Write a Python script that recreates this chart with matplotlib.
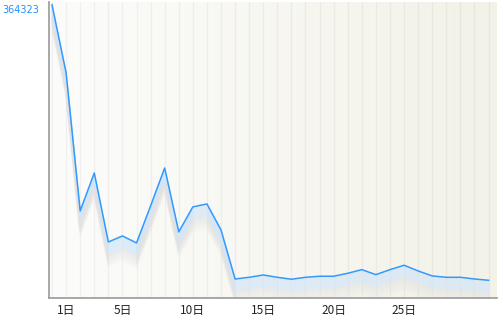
import numpy as np
import matplotlib
matplotlib.use("Agg")
import matplotlib.pyplot as plt
import matplotlib.transforms as mtransforms

plt.rcParams['font.family'] = ['Noto Sans CJK JP', 'DejaVu Sans']

# data (day index 0..31)
days = list(range(32))
values = [364323, 279800, 108200, 155400, 69600, 77100, 68400, 114400,
          161600, 82100, 113200, 116900, 84600, 23600, 25700, 28600,
          25700, 23300, 25700, 27000, 27000, 30700, 35200, 29000,
          35200, 40700, 33600, 27400, 25700, 25700, 23600, 22000]
tick_days = [1, 5, 10, 15, 20, 25]
tick_labels = ["1日", "5日", "10日", "15日", "20日", "25日"]
y_max = 364323

fig = plt.figure(figsize=(5, 3.17), dpi=100)
ax = fig.add_axes([0.098, 0.06, 0.896, 0.934])

x0, x1 = -0.215, 31.6
y0, y1 = 0, 368000
ax.set_xlim(x0, x1)
ax.set_ylim(y0, y1)

# background gradient, white on the left to pale beige on the right
grad = np.linspace(0, 1, 256)[None, :, None]
c_left = np.array([252, 252, 251]) / 255
c_right = np.array([243, 242, 232]) / 255
img = c_left + (c_right - c_left) * grad
ax.imshow(img, extent=[x0, x1, y0, y1], aspect="auto", zorder=0)

# vertical grid, one per day
for d in days:
    ax.axvline(d, color="#000000", alpha=0.045, lw=1.0, zorder=1)

# soft shadow under the line
for i in range(1, 26):
    off = mtransforms.ScaledTranslation(0, -i / 100, fig.dpi_scale_trans)
    if i <= 12:
        col, a = "#d3e6f8", 0.5
    else:
        col, a = "#e2e2e2", 0.45 * (1 - (i - 12) / 14)
    ax.plot(days, values, color=col, lw=1.2, alpha=a,
            transform=ax.transData + off, zorder=2, solid_joinstyle="miter")

ax.plot(days, values, color="#3399ff", lw=1.1, zorder=3)

ax.set_xticks(tick_days)
ax.set_xticklabels(tick_labels, fontsize=8.5, color="#222222")
ax.set_yticks([y_max])
ax.set_yticklabels([str(y_max)], fontsize=7, color="#1e90ff",
                   family=["DejaVu Sans"])
ax.tick_params(axis="x", length=0, pad=4)
ax.tick_params(axis="y", length=0, pad=7)
ax.get_yticklabels()[0].set_va("top")

for s in ["top", "right"]:
    ax.spines[s].set_visible(False)
ax.spines["left"].set_color("#999999")
ax.spines["bottom"].set_color("#999999")
ax.spines["left"].set_linewidth(1.2)
ax.spines["bottom"].set_linewidth(1.2)

fig.savefig("out.png", dpi=100)
